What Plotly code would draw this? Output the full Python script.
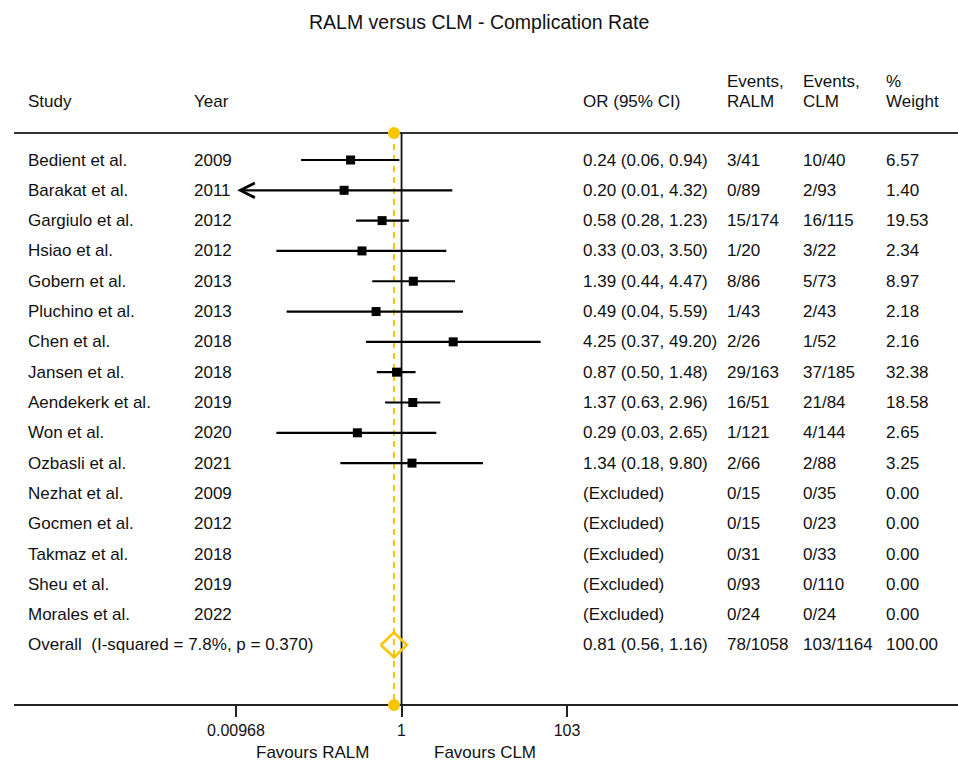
import math
import plotly.graph_objects as go

# ---------------- data ----------------
studies = ["Bedient et al.", "Barakat et al.", "Gargiulo et al.", "Hsiao et al.",
           "Gobern et al.", "Pluchino et al.", "Chen et al.", "Jansen et al.",
           "Aendekerk et al.", "Won et al.", "Ozbasli et al.", "Nezhat et al.",
           "Gocmen et al.", "Takmaz et al.", "Sheu et al.", "Morales et al."]
years = [2009, 2011, 2012, 2012, 2013, 2013, 2018, 2018, 2019, 2020, 2021,
         2009, 2012, 2018, 2019, 2022]
odds = [0.24, 0.20, 0.58, 0.33, 1.39, 0.49, 4.25, 0.87, 1.37, 0.29, 1.34,
        None, None, None, None, None]
ci_low = [0.06, 0.01, 0.28, 0.03, 0.44, 0.04, 0.37, 0.50, 0.63, 0.03, 0.18,
          None, None, None, None, None]
ci_high = [0.94, 4.32, 1.23, 3.50, 4.47, 5.59, 49.20, 1.48, 2.96, 2.65, 9.80,
           None, None, None, None, None]
events_ralm = ["3/41", "0/89", "15/174", "1/20", "8/86", "1/43", "2/26", "29/163",
               "16/51", "1/121", "2/66", "0/15", "0/15", "0/31", "0/93", "0/24"]
events_clm = ["10/40", "2/93", "16/115", "3/22", "5/73", "2/43", "1/52", "37/185",
              "21/84", "4/144", "2/88", "0/35", "0/23", "0/33", "0/110", "0/24"]
weights = [6.57, 1.40, 19.53, 2.34, 8.97, 2.18, 2.16, 32.38, 18.58, 2.65, 3.25,
           0.00, 0.00, 0.00, 0.00, 0.00]

overall_label = "Overall\u00a0\u00a0(I-squared = 7.8%, p = 0.370)"
overall_or = 0.81
overall_low = 0.56
overall_high = 1.16
overall_ralm = "78/1058"
overall_clm = "103/1164"
overall_weight = 100.00

axis_min = 0.00968
axis_max = 103
tick_vals = [0.00968, 1, 103]
tick_text = ["0.00968", "1", "103"]

# ---------------- layout helpers ----------------
W, H = 958, 764
ROW0_PX, ROW_STEP = 160, 30.31


def px_to_row(p):
    return (p - ROW0_PX) / ROW_STEP


FONT = "Liberation Sans, Arial, sans-serif"
TXT = "#111111"
GOLD = "#F8C600"
FS = 17

n = len(studies)
overall_row = n
top_row = px_to_row(133)
bot_row = px_to_row(705)

fig = go.Figure()

# reference line at OR = 1
fig.add_trace(go.Scatter(x=[1, 1], y=[top_row, bot_row], mode="lines",
                         line=dict(color="#111111", width=1.8),
                         hoverinfo="skip", showlegend=False))
# overall effect dashed line
fig.add_trace(go.Scatter(x=[overall_or, overall_or], y=[top_row, bot_row], mode="lines",
                         line=dict(color=GOLD, width=2, dash="6px,5px"),
                         hoverinfo="skip", showlegend=False))
fig.add_trace(go.Scatter(x=[overall_or, overall_or], y=[top_row, bot_row], mode="markers",
                         marker=dict(color=GOLD, size=12),
                         hoverinfo="skip", showlegend=False))

# CI lines
cx, cy = [], []
for i in range(n):
    if odds[i] is None:
        continue
    if ci_low[i] <= 0.0101:
        continue  # drawn as arrow
    cx += [ci_low[i], ci_high[i], None]
    cy += [i, i, None]
fig.add_trace(go.Scatter(x=cx, y=cy, mode="lines",
                         line=dict(color="#000000", width=2.2),
                         hoverinfo="skip", showlegend=False))

# point estimates
px_ = [odds[i] for i in range(n) if odds[i] is not None]
py_ = [i for i in range(n) if odds[i] is not None]
fig.add_trace(go.Scatter(x=px_, y=py_, mode="markers",
                         marker=dict(symbol="square", color="#000000", size=9),
                         hoverinfo="skip", showlegend=False))

# overall diamond
dh = 0.41
fig.add_trace(go.Scatter(
    x=[overall_low, overall_or, overall_high, overall_or, overall_low],
    y=[overall_row, overall_row - dh, overall_row, overall_row + dh, overall_row],
    mode="lines", line=dict(color=GOLD, width=2.6),
    hoverinfo="skip", showlegend=False))

annotations = []

# arrow for truncated CI
for i in range(n):
    if odds[i] is not None and ci_low[i] <= 0.0101:
        annotations.append(dict(
            x=math.log10(ci_low[i]), y=i, xref="x", yref="y",
            ax=math.log10(ci_high[i]), ay=i, axref="x", ayref="y",
            showarrow=True, arrowhead=5, arrowsize=1.3, arrowwidth=2.2,
            arrowcolor="#000000", text=""))

col_x = {"study": 27, "year": 193, "or": 582, "ralm": 726, "clm": 802, "w": 885}


def add_text(txt, colkey, row, size=FS):
    annotations.append(dict(
        x=col_x[colkey] / W, y=row, xref="paper", yref="y",
        xanchor="left", yanchor="middle", text=txt, showarrow=False,
        borderpad=0,
        font=dict(family=FONT, size=size, color=TXT)))


# header
hdr_row = px_to_row(101)
hdr_row2 = px_to_row(81)
add_text("Study", "study", hdr_row)
add_text("Year", "year", hdr_row)
add_text("OR (95% CI)", "or", hdr_row)
add_text("Events,", "ralm", hdr_row2)
add_text("RALM", "ralm", hdr_row)
add_text("Events,", "clm", hdr_row2)
add_text("CLM", "clm", hdr_row)
add_text("%", "w", hdr_row2)
add_text("Weight", "w", hdr_row)

for i in range(n):
    add_text(studies[i], "study", i)
    add_text(str(years[i]), "year", i)
    if odds[i] is None:
        ortxt = "(Excluded)"
    else:
        ortxt = f"{odds[i]:.2f} ({ci_low[i]:.2f}, {ci_high[i]:.2f})"
    add_text(ortxt, "or", i)
    add_text(events_ralm[i], "ralm", i)
    add_text(events_clm[i], "clm", i)
    add_text(f"{weights[i]:.2f}", "w", i)

add_text(overall_label, "study", overall_row)
add_text(f"{overall_or:.2f} ({overall_low:.2f}, {overall_high:.2f})", "or", overall_row)
add_text(overall_ralm, "ralm", overall_row)
add_text(overall_clm, "clm", overall_row)
add_text(f"{overall_weight:.2f}", "w", overall_row)

# favours labels
annotations.append(dict(x=0, y=1 - 752 / H, xref="x", yref="paper",
                        xanchor="right", yanchor="middle", xshift=-32,
                        text="Favours RALM", showarrow=False, borderpad=0,
                        font=dict(family=FONT, size=FS, color=TXT)))
annotations.append(dict(x=0, y=1 - 752 / H, xref="x", yref="paper",
                        xanchor="left", yanchor="middle", xshift=31,
                        text="Favours CLM", showarrow=False, borderpad=0,
                        font=dict(family=FONT, size=FS, color=TXT)))
# title
annotations.append(dict(x=0.5, y=1 - 22 / H, xref="paper", yref="paper",
                        xanchor="center", yanchor="middle",
                        text="RALM versus CLM - Complication Rate", showarrow=False,
                        font=dict(family=FONT, size=19.5, color=TXT)))

shapes = [
    dict(type="line", xref="paper", yref="y", x0=14 / W, x1=1, y0=top_row, y1=top_row,
         line=dict(color="#333333", width=2.2), layer="below"),
    dict(type="line", xref="paper", yref="y", x0=14 / W, x1=1, y0=bot_row, y1=bot_row,
         line=dict(color="#222222", width=2.2), layer="below"),
]

fig.update_layout(
    template="none",
    width=W, height=H, autosize=False,
    margin=dict(l=0, r=0, t=0, b=0, pad=0, autoexpand=False),
    paper_bgcolor="white", plot_bgcolor="rgba(0,0,0,0)",
    showlegend=False,
    annotations=annotations,
    shapes=shapes,
    xaxis=dict(type="log",
               range=[math.log10(axis_min), math.log10(axis_max)],
               domain=[236 / W, 567 / W],
               anchor="free", position=1 - 705 / H,
               automargin=False,
               tickvals=tick_vals, ticktext=tick_text,
               ticks="outside", ticklen=11, tickwidth=2, tickcolor="#222222",
               showgrid=False, zeroline=False, showline=False,
               tickfont=dict(family=FONT, size=16, color=TXT),
               fixedrange=True),
    yaxis=dict(range=[px_to_row(H), px_to_row(0)], domain=[0, 1],
               automargin=False,
               visible=False, fixedrange=True),
)

fig.write_html("out.html", config={"responsive": False})
